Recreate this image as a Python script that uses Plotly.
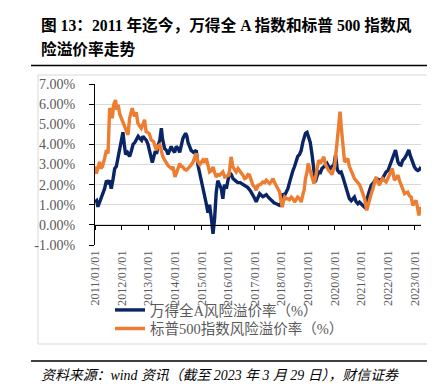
import pandas as pd
import plotly.graph_objects as go

# ---- data (decimal year, value in %) ----
wind_t = [2011.00, 2011.06, 2011.11, 2011.20, 2011.30, 2011.36, 2011.43, 2011.49, 2011.55, 2011.61,
          2011.68, 2011.74, 2011.80, 2011.86, 2011.93, 2011.99, 2012.05, 2012.10, 2012.15, 2012.22,
          2012.30, 2012.37, 2012.43, 2012.50, 2012.55, 2012.62, 2012.68, 2012.75, 2012.80, 2012.87,
          2012.93, 2012.99, 2013.08, 2013.15, 2013.25, 2013.32, 2013.36, 2013.43, 2013.49, 2013.53,
          2013.61, 2013.68, 2013.74, 2013.80, 2013.86, 2013.93, 2013.99, 2014.05, 2014.12, 2014.18,
          2014.24, 2014.30, 2014.40, 2014.45, 2014.49, 2014.55, 2014.61, 2014.70, 2014.80, 2014.86,
          2014.93, 2014.99, 2015.05, 2015.11, 2015.17, 2015.24, 2015.30, 2015.37, 2015.43, 2015.49,
          2015.55, 2015.61, 2015.68, 2015.74, 2015.80, 2015.86, 2015.93, 2016.05, 2016.12, 2016.18,
          2016.27, 2016.36, 2016.45, 2016.55, 2016.65, 2016.74, 2016.83, 2016.93, 2017.00, 2017.05,
          2017.12, 2017.18, 2017.30, 2017.43, 2017.52, 2017.62, 2017.72, 2017.80, 2017.93, 2018.00,
          2018.05, 2018.12, 2018.24, 2018.30, 2018.37, 2018.43, 2018.49, 2018.55, 2018.61, 2018.68,
          2018.74, 2018.80, 2018.90, 2018.96, 2019.02, 2019.08, 2019.15, 2019.21, 2019.27, 2019.33,
          2019.40, 2019.46, 2019.52, 2019.60, 2019.71, 2019.77, 2019.83, 2019.90, 2019.96, 2020.03,
          2020.10, 2020.17, 2020.24, 2020.30, 2020.37, 2020.43, 2020.49, 2020.55, 2020.62, 2020.68,
          2020.74, 2020.80, 2020.87, 2020.93, 2021.00, 2021.06, 2021.12, 2021.18, 2021.24, 2021.30,
          2021.37, 2021.46, 2021.55, 2021.65, 2021.74, 2021.83, 2021.93, 2022.00, 2022.05, 2022.12,
          2022.18, 2022.24, 2022.28, 2022.33, 2022.37, 2022.43, 2022.49, 2022.55, 2022.62, 2022.70,
          2022.78, 2022.82, 2022.87, 2022.93, 2022.99, 2023.06, 2023.12, 2023.18, 2023.24]
wind_v = [1.13, 1.20, 0.90, 1.20, 1.60, 1.80, 2.20, 2.10, 2.20, 1.80,
          2.30, 2.80, 2.90, 3.30, 3.70, 4.30, 4.60, 4.00, 3.50, 3.60,
          3.40, 3.70, 4.00, 4.10, 4.20, 4.40, 4.30, 4.20, 4.40, 4.30,
          4.20, 4.00, 3.40, 3.10, 3.60, 3.60, 3.90, 4.20, 4.80, 4.30,
          3.80, 3.70, 3.50, 3.70, 3.90, 3.70, 3.60, 3.90, 3.80, 3.60,
          3.90, 4.30, 4.55, 4.40, 4.10, 3.90, 3.70, 3.60, 3.70, 3.00,
          2.60, 2.30, 1.90, 1.60, 1.10, 0.60, 1.00, 0.30, -0.45, 0.30,
          1.60, 2.20, 2.00, 1.80, 1.30, 2.00, 1.80, 2.60, 2.50, 2.30,
          2.20, 2.10, 2.10, 2.00, 1.90, 1.85, 1.70, 1.50, 1.30, 1.15,
          1.40, 1.55, 1.40, 1.50, 1.35, 1.20, 1.10, 1.05, 0.97, 1.10,
          1.55, 1.47, 1.80, 2.10, 2.47, 2.70, 2.90, 3.10, 3.40, 3.50,
          3.70, 4.10, 4.55, 4.60, 4.30, 4.10, 3.47, 2.80, 2.13, 2.40,
          2.63, 2.60, 2.80, 2.90, 3.05, 2.90, 2.80, 2.90, 2.90, 3.47,
          2.72, 2.60, 2.63, 2.40, 2.10, 1.80, 1.55, 1.30, 1.20, 1.30,
          1.38, 1.15, 1.05, 1.13, 1.00, 0.95, 0.88, 1.20, 1.55, 1.70,
          1.97, 2.10, 2.30, 2.25, 2.20, 2.40, 2.63, 2.70, 2.88, 3.10,
          3.30, 3.50, 3.72, 3.40, 3.13, 3.00, 2.97, 3.20, 3.30, 3.50,
          3.72, 3.50, 3.30, 3.00, 2.88, 2.75, 2.70, 2.75, 2.88]

sp_t = [2011.00, 2011.05, 2011.11, 2011.17, 2011.22, 2011.28, 2011.36, 2011.43, 2011.49, 2011.52,
        2011.55, 2011.60, 2011.65, 2011.70, 2011.77, 2011.82, 2011.87, 2011.93, 2011.99, 2012.05,
        2012.10, 2012.15, 2012.24, 2012.30, 2012.40, 2012.45, 2012.49, 2012.55, 2012.61, 2012.68,
        2012.74, 2012.80, 2012.86, 2012.92, 2013.03, 2013.11, 2013.20, 2013.30, 2013.36, 2013.43,
        2013.49, 2013.55, 2013.62, 2013.68, 2013.74, 2013.80, 2013.87, 2013.93, 2014.00, 2014.05,
        2014.12, 2014.18, 2014.24, 2014.30, 2014.37, 2014.43, 2014.49, 2014.55, 2014.62, 2014.68,
        2014.74, 2014.80, 2014.86, 2014.93, 2015.05, 2015.11, 2015.18, 2015.24, 2015.30, 2015.37,
        2015.43, 2015.49, 2015.55, 2015.62, 2015.68, 2015.74, 2015.80, 2015.87, 2015.93, 2016.03,
        2016.11, 2016.18, 2016.24, 2016.30, 2016.37, 2016.43, 2016.49, 2016.55, 2016.62, 2016.68,
        2016.74, 2016.80, 2016.87, 2016.93, 2017.00, 2017.05, 2017.12, 2017.20, 2017.30, 2017.37,
        2017.43, 2017.49, 2017.55, 2017.62, 2017.68, 2017.74, 2017.80, 2017.87, 2017.93, 2017.98,
        2018.03, 2018.08, 2018.12, 2018.18, 2018.24, 2018.30, 2018.37, 2018.43, 2018.49, 2018.55,
        2018.61, 2018.68, 2018.74, 2018.80, 2018.85, 2018.90, 2018.96, 2019.00, 2019.06, 2019.12,
        2019.15, 2019.22, 2019.27, 2019.33, 2019.40, 2019.46, 2019.52, 2019.59, 2019.65, 2019.71,
        2019.77, 2019.83, 2019.90, 2019.96, 2020.00, 2020.04, 2020.09, 2020.13, 2020.17, 2020.20,
        2020.25, 2020.31, 2020.37, 2020.43, 2020.49, 2020.55, 2020.62, 2020.68, 2020.74, 2020.80,
        2020.87, 2020.93, 2020.99, 2021.06, 2021.12, 2021.20, 2021.25, 2021.31, 2021.37, 2021.43,
        2021.49, 2021.55, 2021.62, 2021.68, 2021.74, 2021.80, 2021.87, 2021.93, 2021.99, 2022.05,
        2022.12, 2022.16, 2022.24, 2022.30, 2022.37, 2022.43, 2022.49, 2022.55, 2022.62, 2022.68,
        2022.74, 2022.80, 2022.87, 2022.93, 2022.99, 2023.05, 2023.10, 2023.16, 2023.20, 2023.24]
sp_v = [2.90, 2.55, 2.80, 3.13, 2.80, 2.90, 3.30, 3.72, 3.55, 4.50,
        5.80, 5.60, 5.30, 5.97, 6.20, 5.72, 5.97, 5.50, 5.30, 5.05,
        4.90, 4.80, 4.47, 5.30, 5.80, 5.50, 5.40, 5.60, 5.05, 4.90,
        4.80, 5.00, 5.22, 4.63, 4.55, 4.22, 4.13, 3.72, 3.90, 3.97,
        3.60, 3.38, 3.20, 3.05, 2.95, 2.88, 2.80, 2.88, 2.38, 2.55,
        2.80, 3.05, 2.90, 2.88, 2.75, 2.72, 2.80, 2.88, 3.00, 3.13,
        3.30, 3.55, 3.13, 3.00, 3.22, 3.10, 3.30, 3.00, 2.63, 2.70,
        2.88, 2.60, 2.38, 2.50, 2.47, 2.55, 2.63, 2.38, 2.40, 2.47,
        3.38, 2.88, 2.75, 2.63, 2.80, 2.70, 2.55, 2.47, 2.30, 2.35,
        2.50, 2.47, 2.20, 1.97, 1.88, 1.72, 1.97, 2.00, 2.13, 2.10,
        2.22, 2.15, 2.05, 2.15, 2.30, 2.10, 1.97, 1.80, 1.63, 1.20,
        0.88, 1.20, 1.38, 1.30, 1.30, 1.25, 1.38, 1.30, 1.13, 1.25,
        1.38, 1.30, 1.13, 1.50, 1.72, 2.30, 2.63, 3.05, 2.80, 2.50,
        2.30, 2.05, 2.30, 2.72, 3.22, 3.05, 3.20, 3.38, 3.00, 2.80,
        2.70, 2.63, 2.50, 2.80, 2.90, 3.47, 4.20, 5.00, 5.50, 5.63,
        4.80, 3.97, 3.13, 3.20, 3.30, 2.90, 2.63, 2.50, 2.30, 2.20,
        2.13, 2.00, 1.80, 1.50, 1.30, 0.72, 1.00, 1.30, 1.55, 1.80,
        2.10, 2.38, 2.10, 1.97, 2.20, 2.30, 2.20, 2.13, 2.30, 2.47,
        2.60, 2.80, 2.22, 2.35, 2.47, 2.20, 1.97, 1.75, 1.55, 1.60,
        1.63, 1.45, 1.38, 0.97, 1.10, 1.22, 0.90, 0.47, 0.88, 0.75]

series_names = ["万得全A风险溢价率（%）", "标普500指数风险溢价率（%）"]
series_colors = ["#0a2565", "#ED7D31"]
y_ticks = [-1, 0, 1, 2, 3, 4, 5, 6, 7]
y_tick_text = ["-1.00%", "0.00%", "1.00%", "2.00%", "3.00%", "4.00%", "5.00%", "6.00%", "7.00%"]
title_lines = ["图 13：2011 年迄今，万得全 A 指数和标普 500 指数风", "险溢价率走势"]
source_text = "资料来源：wind 资讯（截至 2023 年 3 月 29 日），财信证券"


def to_dates(ts):
    out = []
    for t in ts:
        y = int(t)
        out.append(pd.Timestamp(year=y, month=1, day=1) + pd.Timedelta(days=(t - y) * 365.25))
    return out


wind_d = to_dates(wind_t)
sp_d = to_dates(sp_t)

SERIF = "Liberation Serif, Noto Sans CJK SC, serif"

fig = go.Figure()
fig.add_trace(go.Scatter(x=wind_d, y=wind_v, mode="lines", name=series_names[0],
                         legend="legend",
                         line=dict(color=series_colors[0], width=3.4)))
fig.add_trace(go.Scatter(x=sp_d, y=sp_v, mode="lines", name=series_names[1],
                         legend="legend2",
                         line=dict(color=series_colors[1], width=3.4)))
# invisible helper trace on the zero-line axis
fig.add_trace(go.Scatter(x=wind_d, y=wind_v, mode="lines", xaxis="x2", showlegend=False,
                         opacity=0, hoverinfo="skip", line=dict(width=0)))

# Plot area: x 87..413, y 76..237 (px)
L, R, T, B = 87, 413, 76, 237
W, H = 435, 389
pw, ph = R - L, B - T


def px_x(px):
    return (px - L) / pw


def px_y(py):
    return (B - py) / ph


xr = [pd.Timestamp("2011-01-01"), pd.Timestamp("2023-03-29")]

LEG_FONT = dict(family=SERIF, size=14.5, color="#595959")
fig.update_layout(
    width=W, height=H,
    margin=dict(l=L, r=W - R, t=T, b=H - B),
    paper_bgcolor="white", plot_bgcolor="white",
    showlegend=True,
    legend=dict(x=px_x(102), y=px_y(302), xanchor="left", yanchor="middle",
                orientation="v", bgcolor="rgba(0,0,0,0)", font=LEG_FONT, itemwidth=30),
    legend2=dict(x=px_x(102), y=px_y(320.5), xanchor="left", yanchor="middle",
                 orientation="v", bgcolor="rgba(0,0,0,0)", font=LEG_FONT, itemwidth=30),
    xaxis=dict(type="date", range=xr, tick0="2011-01-01", dtick="M12",
               tickformat="%Y/%m/%d", tickangle=-90, showgrid=False, showline=False,
               ticks="", zeroline=False, ticklabelstandoff=2,
               tickfont=dict(family=SERIF, size=12.2, color="#595959")),
    xaxis2=dict(type="date", range=xr, tick0="2011-01-01", dtick="M12",
                overlaying="x", anchor="free", position=px_y(217), side="bottom",
                showline=True, linecolor="black", linewidth=1, ticks="outside",
                ticklen=4, tickcolor="black", showticklabels=False, showgrid=False,
                zeroline=False),
    yaxis=dict(range=[-1, 7], tickvals=y_ticks, ticktext=y_tick_text,
               showgrid=True, gridcolor="#d9d9d9", gridwidth=1, zeroline=False,
               showline=True, linecolor="black", linewidth=1, ticks="outside",
               ticklen=5, tickcolor="black", ticklabelstandoff=11,
               tickfont=dict(family=SERIF, size=14, color="#595959")),
)

shapes = [
    # chart frame
    dict(type="rect", xref="paper", yref="paper", x0=px_x(30), x1=px_x(425),
         y0=px_y(336), y1=px_y(67), line=dict(color="#d9d9d9", width=1), layer="below"),
    # title rule
    dict(type="line", xref="paper", yref="paper", x0=px_x(23), x1=px_x(430),
         y0=px_y(57.5), y1=px_y(57.5), line=dict(color="black", width=1.5)),
    # source rule
    dict(type="line", xref="paper", yref="paper", x0=px_x(23), x1=px_x(430),
         y0=px_y(353), y1=px_y(353), line=dict(color="black", width=1.5)),
]
fig.update_layout(shapes=shapes)

TITLE_FONT = dict(family="Liberation Serif, Noto Sans CJK SC, serif", size=15.7, color="black")
fig.add_annotation(text="<b>" + title_lines[0] + "</b>", xref="paper", yref="paper",
                   x=px_x(31), y=px_y(17), xanchor="left", yanchor="middle",
                   showarrow=False, font=TITLE_FONT)
fig.add_annotation(text="<b>" + title_lines[1] + "</b>", xref="paper", yref="paper",
                   x=px_x(31), y=px_y(41), xanchor="left", yanchor="middle",
                   showarrow=False, font=TITLE_FONT)
fig.add_annotation(text="<i>" + source_text + "</i>", xref="paper", yref="paper",
                   x=px_x(31), y=px_y(367), xanchor="left", yanchor="middle",
                   showarrow=False,
                   font=dict(family="Liberation Serif, Noto Sans CJK SC, serif", size=13.9,
                             color="black"))

fig.write_html("out.html")
